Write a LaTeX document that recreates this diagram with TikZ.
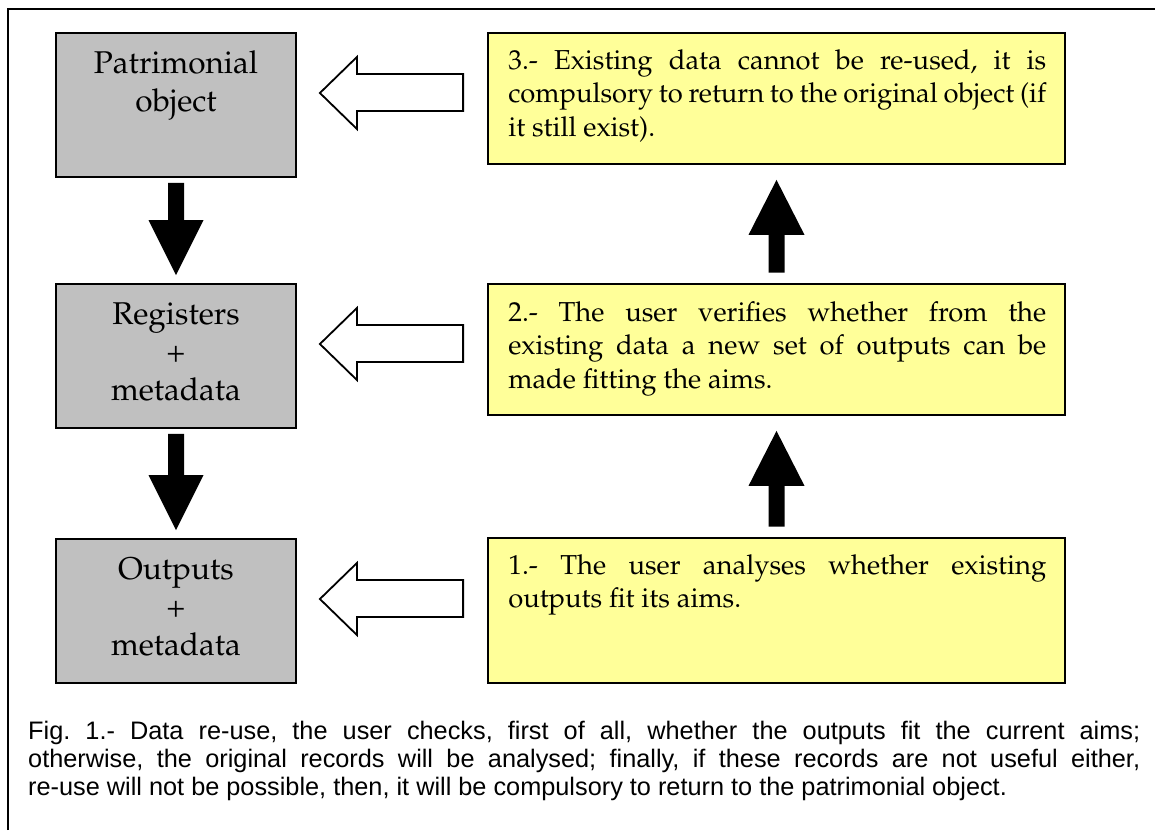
\documentclass[tikz,border=0pt]{standalone}
\usepackage[T1]{fontenc}
\usepackage{fontspec}
\newfontfamily\capfont{Liberation Sans}
\newcommand\palfont{\fontencoding{T1}\fontfamily{ppl}\selectfont}
\usetikzlibrary{calc}
\definecolor{boxgray}{HTML}{C0C0C0}
\definecolor{boxyellow}{HTML}{FFFF99}
\tikzset{
  graybox/.style={draw=black, line width=1.8pt, fill=boxgray,
    minimum width=240pt, minimum height=144pt, inner sep=0pt},
  yellowbox/.style={draw=black, line width=1.8pt, fill=boxyellow,
    minimum width=577pt, inner sep=0pt},
  graytext/.style={inner sep=0pt, text width=240pt, align=center,
    font=\palfont\fontsize{31.5}{38}\selectfont, anchor=base},
  yellowtext/.style={inner sep=0pt, text width=538pt, align=justify,
    font=\palfont\fontsize{27.4}{33.5}\selectfont\frenchspacing, anchor=base west},
  captext/.style={inner sep=0pt, text width=1112pt, align=justify,
    font=\capfont\fontsize{25.3}{28}\selectfont\frenchspacing, anchor=base west},
  hollow/.style={draw=black, line width=1.8pt, fill=white, line join=miter},
  frame/.style={draw=black, line width=2pt},
}
% thick black arrow pointing down from box #1 to box #2
\newcommand\downblock[2]{%
  \fill ($(#1.south)+(-8,5)$) -- ($(#2.north)+(-8,-63)$) -- ($(#2.north)+(-27.5,-63)$)
    -- ($(#2.north)+(0,-8)$) -- ($(#2.north)+(27.5,-63)$) -- ($(#2.north)+(8,-63)$)
    -- ($(#1.south)+(8,5)$) -- cycle;}
% thick black arrow pointing up from box #1 to box #2
\newcommand\upblock[2]{%
  \fill ($(#1.north)+(-8,-10.5)$) -- ($(#2.south)+(-8,70)$) -- ($(#2.south)+(-28,70)$)
    -- ($(#2.south)+(0,15)$) -- ($(#2.south)+(28,70)$) -- ($(#2.south)+(8,70)$)
    -- ($(#1.north)+(8,-10.5)$) -- cycle;}
% outlined arrow pointing left from box #1 to box #2
\newcommand\backblock[2]{%
  \draw[hollow] ($(#2.east)+(23,-12)$) -- ++(37,-36) -- ++(0,17) coordinate (ba)
    -- ($(ba -| #1.west)+(-24,0)$) -- ++(0,37) coordinate (bb)
    -- (bb -| ba) -- ++(0,18) -- cycle;}

\begin{document}
\begin{tikzpicture}[x=1pt,y=-1pt]
  \fill[white] (0,0) rectangle (1155,830);
  \useasboundingbox (0,0) rectangle (1155,830);

  % figure frame
  \draw[frame] (8,830) -- (8,9) -- (1155,9);

  % left column
  \node[graybox] (g1) at (176,105) {};
  \node[graybox] (g2) at (176,356) {};
  \node[graybox] (g3) at (176,611) {};
  \node[graytext] (g1t) at ($(g1.north)+(0,41)$) {Patrimonial\\object};
  \node[graytext] (g2t) at ($(g2.north)+(0,41)$) {Registers\\+\\metadata};
  \node[graytext] (g3t) at ($(g3.north)+(0,41)$) {Outputs\\+\\metadata};

  % right column
  \node[yellowbox, minimum height=131pt] (y3) at (776.5,98.5) {};
  \node[yellowbox, minimum height=131pt] (y2) at (776.5,349.5) {};
  \node[yellowbox, minimum height=145pt] (y1) at (776.5,610.5) {};
  \node[yellowtext] (y3t) at ($(y3.north west)+(21,37)$)
    {3.- Existing data cannot be re-used, it is\linebreak compulsory to return to the original object (if\linebreak it still exist).};
  \node[yellowtext] (y2t) at ($(y2.north west)+(21,38)$)
    {2.- The user verifies whether from the\linebreak existing data a new set of outputs can be\linebreak made fitting the aims.};
  \node[yellowtext] (y1t) at ($(y1.north west)+(21,37)$)
    {1.- The user analyses whether existing\linebreak outputs fit its aims.};

  % arrows
  \downblock{g1}{g2}
  \downblock{g2}{g3}
  \upblock{y1}{y2}
  \upblock{y2}{y3}
  \backblock{y3}{g1}
  \backblock{y2}{g2}
  \backblock{y1}{g3}

  % caption
  \node[captext] (cap) at (28,739)
    {Fig. 1.- Data re-use, the user checks, first of all, whether the outputs fit the current aims;\linebreak
     otherwise, the original records will be analysed; finally, if these records are not useful either,\linebreak
     re-use will not be possible, then, it will be compulsory to return to the patrimonial object.};
\end{tikzpicture}
\end{document}
